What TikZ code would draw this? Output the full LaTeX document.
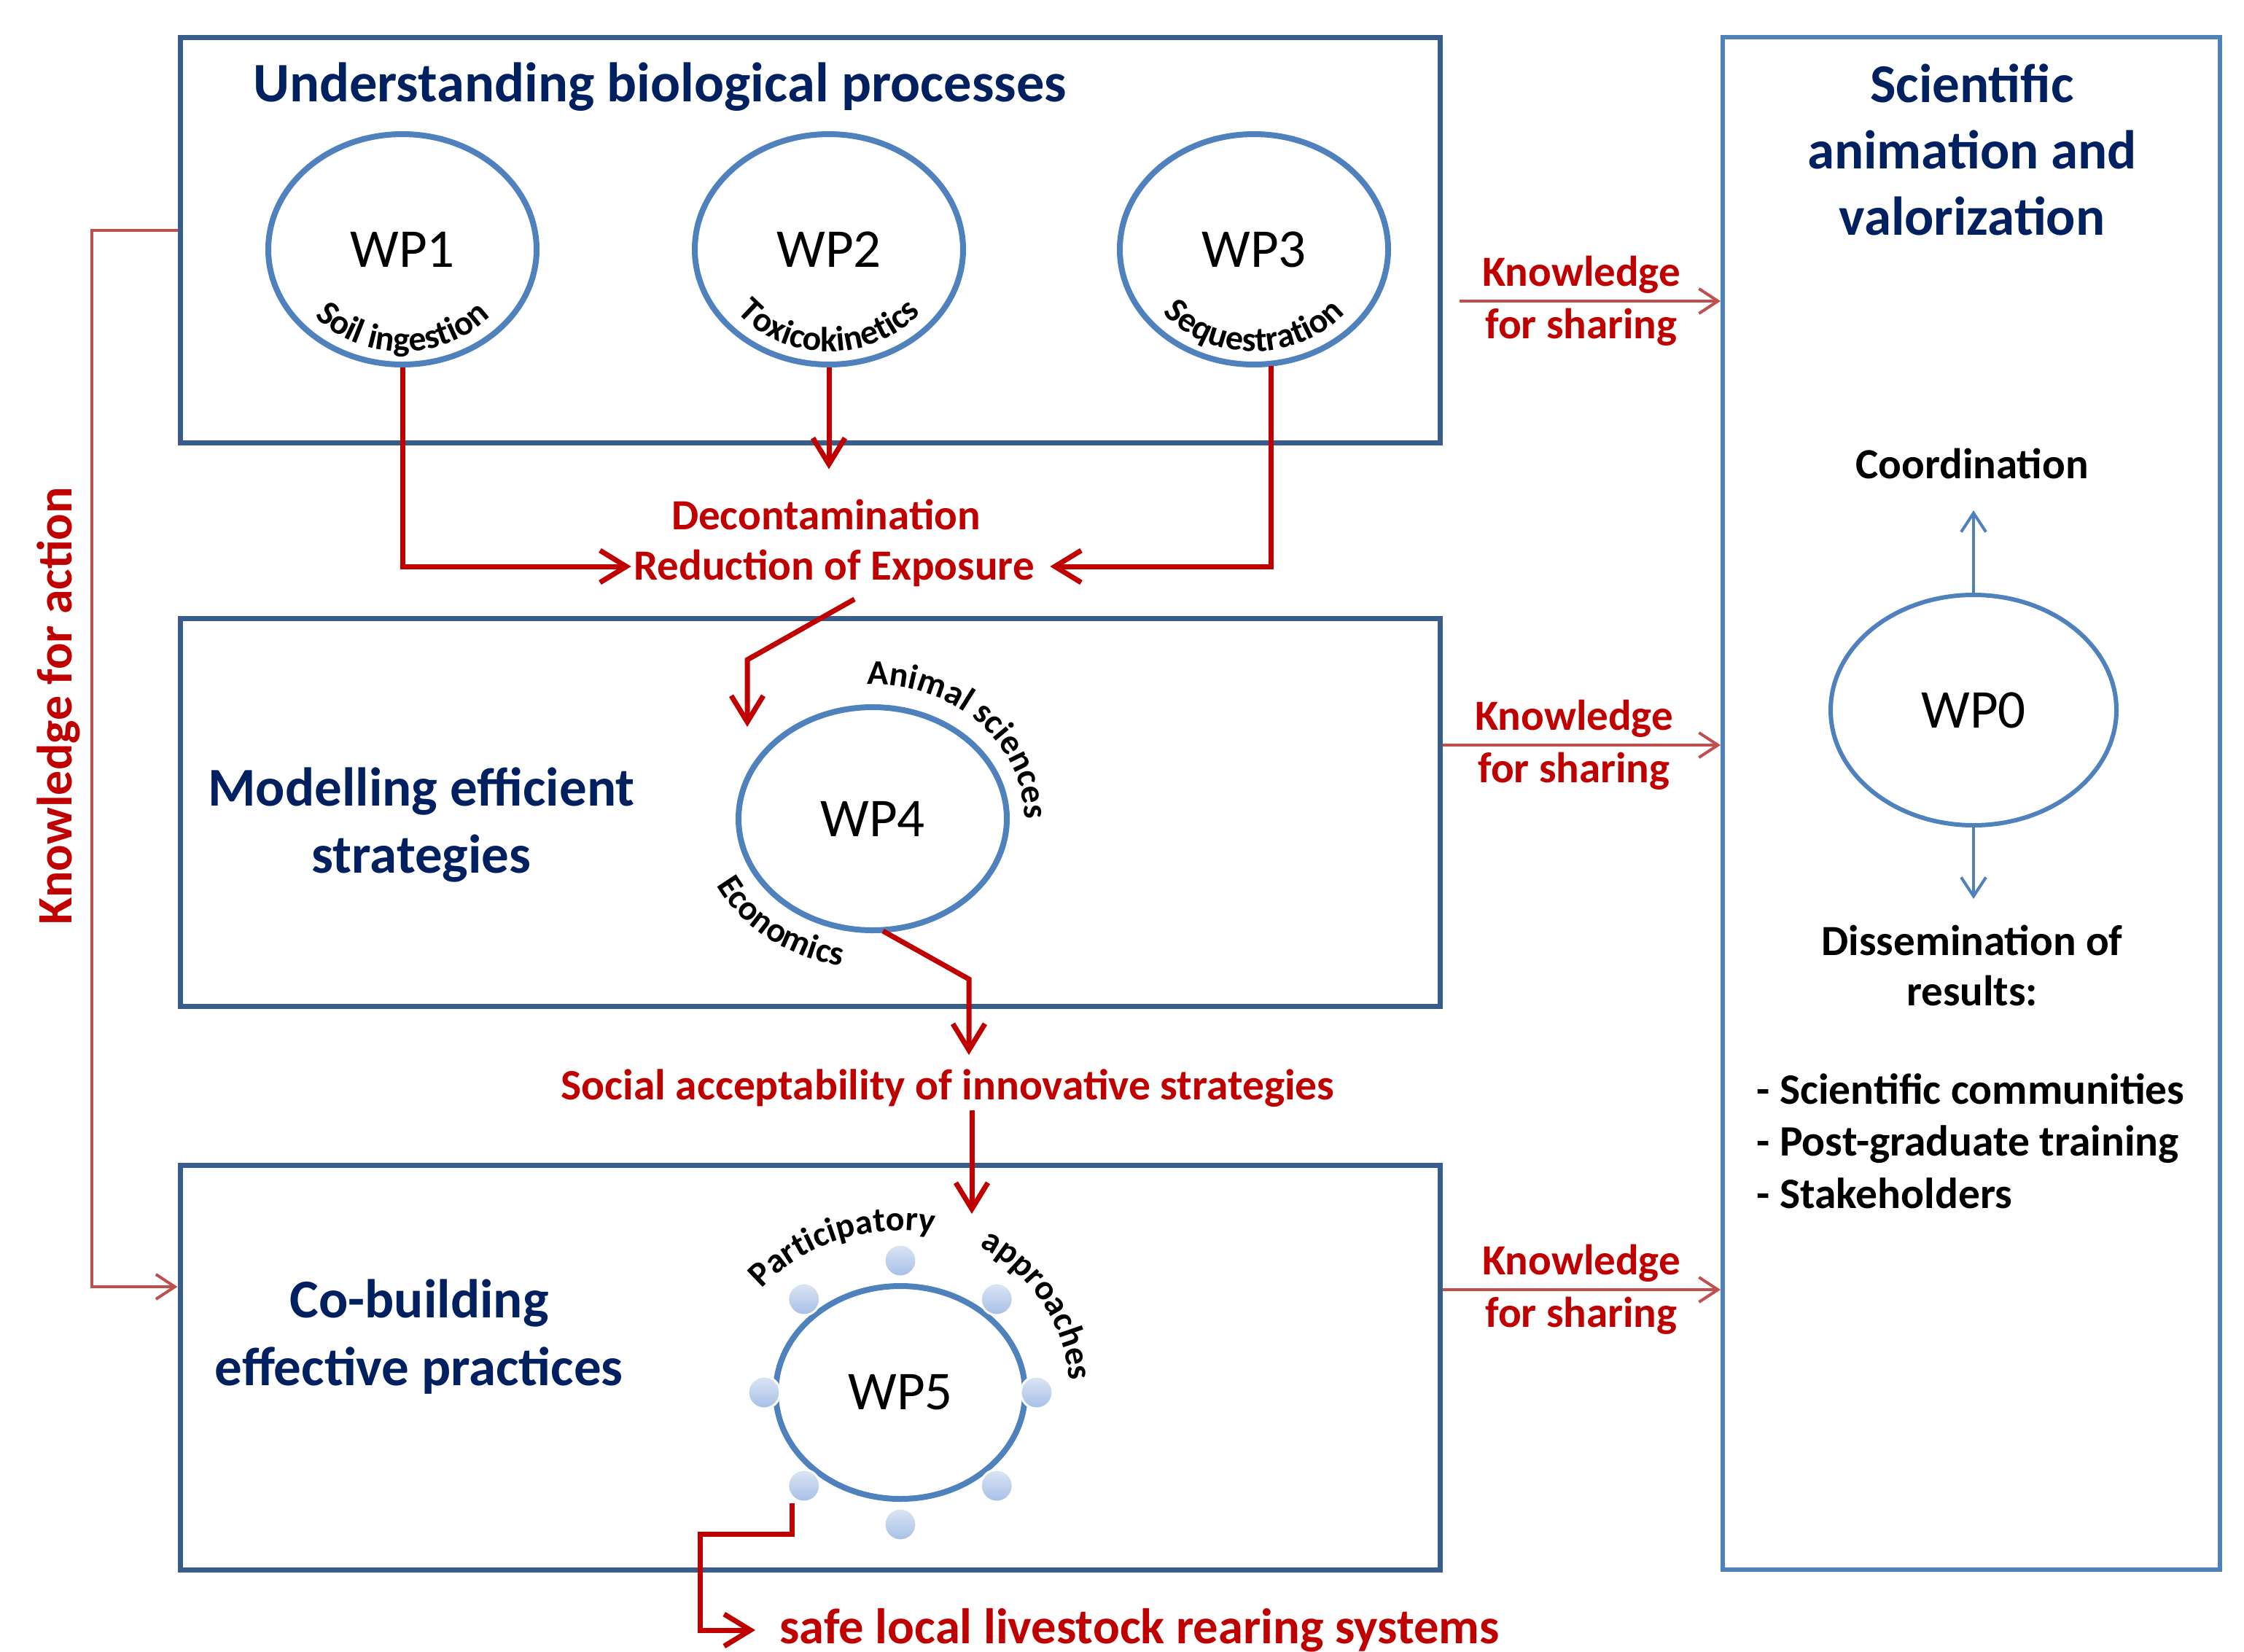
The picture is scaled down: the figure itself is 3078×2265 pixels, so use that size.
\documentclass[tikz,border=0pt]{standalone}
\usepackage{fontspec}
\setmainfont{Carlito}
\usetikzlibrary{shapes.geometric,arrows.meta,decorations.text,calc}
\definecolor{boxblue}{HTML}{385D8A}
\definecolor{ellblue}{HTML}{4F81BD}
\definecolor{navy}{HTML}{002060}
\definecolor{darkred}{HTML}{C00000}
\definecolor{softred}{HTML}{C0504D}
\definecolor{dottop}{HTML}{DCE5F4}
\definecolor{dotbot}{HTML}{A6BFE7}
\newcommand\cfont{\bfseries\fontsize{48}{58}\selectfont}
\begin{document}
\begin{tikzpicture}[x=1pt,y=-1pt,
  box/.style={draw=boxblue,line width=7pt,minimum width=1728pt,inner sep=0pt},
  wp/.style={ellipse,draw=ellblue,line width=8pt,inner sep=0pt,font=\fontsize{75}{90}\selectfont},
  navytitle/.style={text=navy,font=\bfseries\fontsize{75}{92}\selectfont,align=center},
  redtxt/.style={text=darkred,font=\bfseries\fontsize{59}{72}\selectfont,align=center},
  blacktxt/.style={text=black,font=\bfseries\fontsize{59}{70}\selectfont,align=center},
  thickarrow/.style={draw=darkred,line width=7pt,-{Straight Barb[length=36pt,width=44pt]}},
  thinred/.style={draw=softred,line width=4pt},
  thinarrow/.style={-{Straight Barb[length=26pt,width=34pt]}},
  dot/.style={circle,minimum size=44pt,inner sep=0pt,draw=white,line width=3pt,top color=dottop,bottom color=dotbot},
]
\fill[white] (0,0) rectangle (3078,2265);
\useasboundingbox (0,0) rectangle (3078,2265);

% boxes
\node[box,minimum height=556pt] (b1) at (1111,329) {};
\node[box,minimum height=532pt] (b2) at (1111,1114) {};
\node[box,minimum height=555pt] (b3) at (1111,1875.5) {};
\node[draw=ellblue,line width=6pt,minimum width=682pt,minimum height=2102pt,inner sep=0pt] (b0) at (2704,1102) {};

% ellipses
\node[wp,minimum width=368pt,minimum height=316pt] (wp1) at (552,342) {WP1};
\node[wp,minimum width=368pt,minimum height=316pt] (wp2) at (1137,342) {WP2};
\node[wp,minimum width=368pt,minimum height=316pt] (wp3) at (1720,342) {WP3};
\node[wp,minimum width=368pt,minimum height=306pt] (wp4) at (1197,1123) {WP4};
\node[wp,minimum width=342pt,minimum height=292pt] (wp5) at (1235,1910) {WP5};
\node[wp,line width=6pt,minimum width=392pt,minimum height=316pt] (wp0) at (2707,974) {WP0};

\foreach \a in {0,45,...,315}
  \node[dot] (d\a) at ($(wp5.center)+(\a:187 and 181)$) {};

% curved labels
\path[decorate,decoration={text along path,text align=center,text={|\cfont|Soil ingestion}}]
  (wp1.center) ++(160:160 and 140) arc[start angle=160,end angle=20,x radius=160,y radius=140];
\path[decorate,decoration={text along path,text align=center,text={|\cfont|Toxicokinetics}}]
  (wp2.center) ++(160:160 and 140) arc[start angle=160,end angle=20,x radius=160,y radius=140];
\path[decorate,decoration={text along path,text align=center,text={|\cfont|Sequestration}}]
  (wp3.center) ++(160:160 and 140) arc[start angle=160,end angle=20,x radius=160,y radius=140];
\path[decorate,decoration={text along path,text align=center,text={|\cfont|Animal sciences}}]
  (wp4.center) ++(-100:208 and 184) arc[start angle=-100,end angle=9,x radius=208,y radius=184];
\path[decorate,decoration={text along path,text align=center,text={|\cfont|Economics}}]
  (wp4.center) ++(170:239 and 205) arc[start angle=170,end angle=86,x radius=239,y radius=205];
\path[decorate,decoration={text along path,text align=center,text={|\cfont|Participatory}}]
  (wp5.center) ++(-150:248 and 222) arc[start angle=-150,end angle=-70,x radius=248,y radius=222];
\path[decorate,decoration={text along path,text align=center,text={|\cfont|approaches}}]
  (wp5.center) ++(-75:232 and 226) arc[start angle=-75,end angle=9,x radius=232,y radius=226];

% titles
\node[navytitle,font=\bfseries\fontsize{76.5}{92}\selectfont] (t1) at (905,119) {Understanding biological processes};
\node[navytitle,font=\bfseries\fontsize{75}{91}\selectfont] (t0) at (2705,205) {Scientific\\animation and\\valorization};
\node[navytitle] (t2) at (578,1131) {Modelling efficient\\strategies};
\node[navytitle,font=\bfseries\fontsize{75}{93}\selectfont] (t3) at (575,1834) {Co-building\\effective practices};

% knowledge for sharing
\node[redtxt] (k1) at (2169,413) {Knowledge\\for sharing};
\node[redtxt] (k2) at (2159,1022) {Knowledge\\for sharing};
\node[redtxt] (k3) at (2169,1769) {Knowledge\\for sharing};
\draw[thinred,thinarrow] ($(b1.east |- k1)+(23,0)$) -- (b0.west |- k1);
\draw[thinred,thinarrow] (b2.east |- k2) -- (b0.west |- k2);
\draw[thinred,thinarrow] (b3.east |- k3) -- (b0.west |- k3);

% right column
\node[blacktxt] (coord) at (2705,636) {Coordination};
\node[blacktxt,font=\bfseries\fontsize{59}{69}\selectfont] (diss) at (2705,1324) {Dissemination of\\results:};
\node[blacktxt,align=left,anchor=west,font=\bfseries\fontsize{59.5}{71.5}\selectfont] (list) at (2406,1565)
  {- Scientific communities\\- Post-graduate training\\- Stakeholders};
\coordinate (cu) at (2707,700);
\coordinate (cd) at (2707,1233);
\draw[ellblue,line width=4pt,thinarrow] (wp0.north) -- (cu);
\draw[ellblue,line width=4pt,thinarrow] (wp0.south) -- (cd);

% knowledge for action
\node[redtxt,rotate=90,font=\bfseries\fontsize{68}{78}\selectfont] (kfa) at (80,968) {Knowledge for action};
\coordinate (ka) at (126,316);
\coordinate (kb) at (126,1765);
\draw[thinred,thinarrow] (b1.west |- ka) -- (ka) -- (kb) -- (b3.west |- kb);

% red texts
\node[redtxt] (decon) at (1133,706) {Decontamination};
\node[redtxt] (reduc) at (1144,779) {Reduction of Exposure};
\node[redtxt,font=\bfseries\fontsize{59.5}{72}\selectfont] (social) at (1300,1493) {Social acceptability of innovative strategies};
\node[redtxt,anchor=west,font=\bfseries\fontsize{68.6}{80}\selectfont] (safe) at (1066,2236) {safe local livestock rearing systems};

% red arrows
\draw[thickarrow] (wp1.south) -- (wp1.south |- 0,777) -- (reduc.west |- 0,777);
\draw[thickarrow] (wp2.south) -- ($(wp2.south |- decon.north)+(0,-38)$);
\coordinate (w3) at ($(wp3.south)+(23,-2)$);
\draw[thickarrow] (w3) -- (w3 |- 0,777) -- ($(reduc.east |- 0,777)+(18,0)$);
\coordinate (r1) at ($(reduc.south)+(28,14)$);
\coordinate (r2) at (1025,905);
\coordinate (r3) at (1025,997);
\draw[thickarrow] (r1) -- (r2) -- (r3);
\coordinate (s1) at (1329,1343);
\draw[thickarrow] ($(wp4.south)+(14,-3)$) -- (s1) -- (1329,1447);
\coordinate (s2) at (1333,1665);
\draw[thickarrow] (social.south -| s2) -- (s2);
\coordinate (q1) at (1086,2104);
\coordinate (q2) at (960,2104);
\draw[thickarrow] (d135.south -| q1) -- (q1) -- (q2) -- (q2 |- safe.west) -- ($(safe.west)+(-30,0)$);
\end{tikzpicture}
\end{document}
